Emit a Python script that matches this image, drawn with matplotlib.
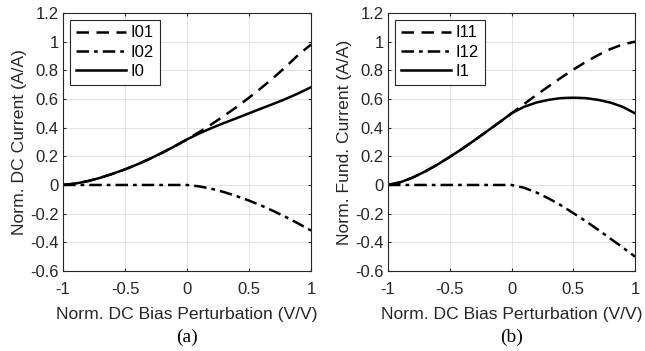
import matplotlib
matplotlib.use("Agg")
import matplotlib.pyplot as plt

# Normalized DC bias perturbation (V/V)
x = [-1.0, -0.9, -0.8, -0.7, -0.6, -0.5, -0.4, -0.3, -0.2, -0.1, 0.0,
     0.1, 0.2, 0.3, 0.4, 0.5, 0.6, 0.7, 0.8, 0.9, 1.0]

# (a) DC current components
i01 = [0.0, 0.010, 0.027, 0.050, 0.078, 0.109, 0.144, 0.183, 0.225, 0.270, 0.318,
       0.370, 0.425, 0.483, 0.544, 0.609, 0.678, 0.750, 0.827, 0.910, 0.98]
i02 = [0.0, 0.0, 0.0, 0.0, 0.0, 0.0, 0.0, 0.0, 0.0, 0.0, 0.0,
       -0.010, -0.027, -0.050, -0.078, -0.109, -0.144, -0.183, -0.225, -0.270, -0.318]
i0 = [0.0, 0.010, 0.027, 0.050, 0.078, 0.109, 0.144, 0.183, 0.225, 0.270, 0.318,
      0.360, 0.398, 0.433, 0.466, 0.500, 0.534, 0.567, 0.602, 0.640, 0.682]

# (b) fundamental current components
i11 = [0.0, 0.019, 0.052, 0.094, 0.142, 0.196, 0.252, 0.312, 0.374, 0.436, 0.5,
       0.564, 0.627, 0.688, 0.748, 0.805, 0.858, 0.906, 0.948, 0.981, 1.0]
i12 = [0.0, 0.0, 0.0, 0.0, 0.0, 0.0, 0.0, 0.0, 0.0, 0.0, 0.0,
       -0.019, -0.052, -0.094, -0.142, -0.196, -0.252, -0.312, -0.374, -0.436, -0.5]
i1 = [0.0, 0.019, 0.052, 0.094, 0.142, 0.196, 0.252, 0.312, 0.374, 0.436, 0.5,
      0.545, 0.575, 0.594, 0.606, 0.609, 0.606, 0.594, 0.575, 0.545, 0.5]

yticks = [-0.6, -0.4, -0.2, 0, 0.2, 0.4, 0.6, 0.8, 1, 1.2]
ytick_labels = ["-0.6", "-0.4", "-0.2", "0", "0.2", "0.4", "0.6", "0.8", "1", "1.2"]
xticks = [-1, -0.5, 0, 0.5, 1]
xtick_labels = ["-1", "-0.5", "0", "0.5", "1"]

plt.rcParams["font.family"] = ["Liberation Sans", "DejaVu Sans"]

fig = plt.figure(figsize=(6.45, 3.51), dpi=100)
ax1 = fig.add_axes([0.0977, 0.228, 0.3845, 0.735])
ax2 = fig.add_axes([0.6016, 0.228, 0.3830, 0.735])


def style(ax, series, labels, ylabel):
    styles = [(0, (5, 3)), (0, (5, 2, 1.5, 2)), "-"]
    for y, lab, ls in zip(series, labels, styles):
        ax.plot(x, y, color="black", lw=1.8, linestyle=ls, label=lab)
    ax.set_xlim(-1, 1)
    ax.set_ylim(-0.6, 1.2)
    ax.set_xticks(xticks)
    ax.set_xticklabels(xtick_labels)
    ax.set_yticks(yticks)
    ax.set_yticklabels(ytick_labels)
    ax.grid(True, color="#e3e3e3", lw=0.7)
    ax.set_axisbelow(True)
    ax.tick_params(direction="in", length=2.5, labelsize=12, colors="#262626",
                   top=True, right=True)
    ax.tick_params(axis="x", pad=8)
    ax.tick_params(axis="y", pad=3)
    for s in ax.spines.values():
        s.set_color("#262626")
        s.set_linewidth(0.8)
    ax.set_xlabel("Norm. DC Bias Perturbation (V/V)", fontsize=12.6,
                  color="#262626", labelpad=7)
    ax.set_ylabel(ylabel, fontsize=12.6, color="#262626", labelpad=2)
    leg = ax.legend(loc="upper left", fontsize=12, handlelength=3.0,
                    fancybox=False, framealpha=1, borderaxespad=0.4,
                    labelspacing=0.25, handletextpad=0.3, borderpad=0.35)
    leg.get_frame().set_edgecolor("#262626")
    leg.get_frame().set_linewidth(0.8)


style(ax1, [i01, i02, i0], ["I01", "I02", "I0"], "Norm. DC Current (A/A)")
style(ax2, [i11, i12, i1], ["I11", "I12", "I1"], "Norm. Fund. Current (A/A)")

fig.text(0.29, 0.04, "(a)", ha="center", va="center", fontsize=14,
         family=["Liberation Serif"])
fig.text(0.793, 0.04, "(b)", ha="center", va="center", fontsize=14,
         family=["Liberation Serif"])

fig.savefig("out.png", dpi=100)
